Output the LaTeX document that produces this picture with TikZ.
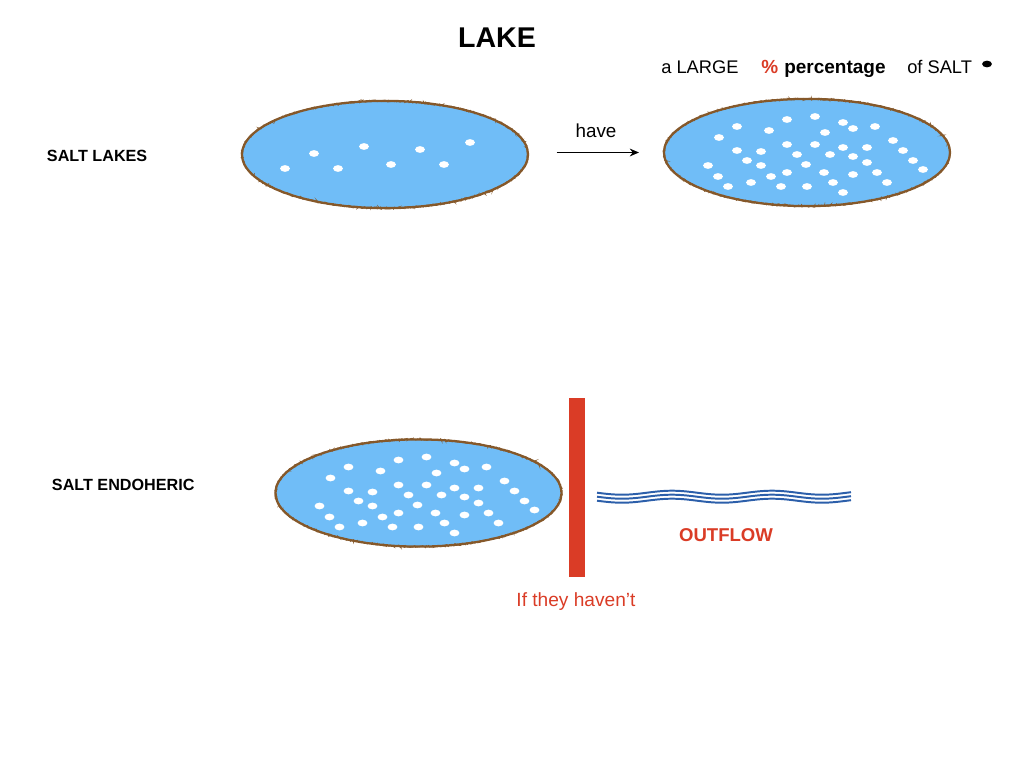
\documentclass[tikz,border=0pt]{standalone}
\usepackage{fontspec}
\setmainfont{Liberation Sans}
\usetikzlibrary{shapes.geometric,decorations.pathmorphing,arrows.meta}

\begin{document}
\begin{tikzpicture}[x=0.025cm,y=-0.025cm]
  \newcommand{\lakew}[0]{7.15cm}
  \newcommand{\lakeh}[0]{2.68cm}
  \newcommand{\fewsalt}[0]{-100/14, -71/-1, -47/14, -21/-8, 6/10, 35/-5, 59/10, 85/-12}
  \newcommand{\muchsalt}[0]{-88/-15, -70/-26, -38/-22, -20/-33, 8/-36, 36/-30, 46/-24,
    68/-26, 18/-20, 86/-12, -70/-2, -46/-1, -20/-8, 8/-8, 36/-5, 60/-5, 96/-2,
    -60/8, -10/2, 23/2, 46/4, 60/10, 106/8, -99/13, -46/13, -1/12, 116/17,
    -89/24, -36/24, -20/20, 17/20, 46/22, 70/20, -79/34, -56/30, -26/34, 0/34,
    26/30, 80/30, 36/40}

  \definecolor{lakeblue}{RGB}{112,189,247}
  \definecolor{lakerim}{RGB}{133,88,42}
  \definecolor{saltred}{RGB}{218,60,38}
  \definecolor{flowblue}{RGB}{44,95,170}

  \tikzstyle{lake}=[
    ellipse,
    draw=lakerim,
    line width=1.6pt,
    fill=lakeblue,
    minimum width=\lakew,
    minimum height=\lakeh,
    inner sep=0pt,
    postaction={draw=lakerim, line width=0.7pt, decorate,
      decoration={random steps, segment length=0.7pt, amplitude=0.7pt}}
  ]
  \tikzstyle{salt}=[fill=white]
  \tikzstyle{heading}=[font=\bfseries\fontsize{11.5}{14}\selectfont, anchor=west]
  \tikzstyle{plain}=[font=\fontsize{13}{16}\selectfont, anchor=base west, inner sep=0pt]
  \tikzstyle{arrow} = [line width=1.1pt,->,>={Stealth[length=6.5pt,width=5.5pt]}, draw=black]
  \tikzstyle{wall}=[fill=saltred, minimum width=11.3pt, minimum height=127pt, inner sep=0pt]
  \tikzstyle{wave}=[draw=flowblue, line width=1.4pt]

  \useasboundingbox (0,0) rectangle (1024,768);

  % titles
  \node[font=\bfseries\fontsize{20.3}{24}\selectfont] (title) at (497,38) {LAKE};
  \node[heading] (saltlakes) at (42,156) {SALT LAKES};
  \node[heading] (endoheric) at (47,485) {SALT ENDOHERIC};

  % lakes
  \node[lake] (lake1) at (385,154.5) {};
  \node[lake] (lake2) at (807,152.5) {};
  \node[lake] (lake3) at (418.5,493) {};
  \foreach \dx/\dy in \fewsalt
    \fill[salt] ([shift={(\dx,\dy)}]lake1.center) ellipse [x radius=3.5pt, y radius=2.4pt];
  \foreach \dx/\dy in \muchsalt {
    \fill[salt] ([shift={(\dx,\dy)}]lake2.center) ellipse [x radius=3.5pt, y radius=2.4pt];
    \fill[salt] ([shift={(\dx,\dy)}]lake3.center) ellipse [x radius=3.5pt, y radius=2.4pt];
  }

  % top row
  \draw[arrow, shorten <=19.5pt, shorten >=17pt] (lake1.east |- lake2.west) -- (lake2.west);
  \node[font=\fontsize{13.4}{16}\selectfont] (have) at (596,131) {have};
  \node[plain] (large) at (661,74) {a LARGE};
  \node[plain, font=\bfseries\fontsize{13.5}{16}\selectfont, text=saltred] (pct) at (761,74) {\%};
  \node[plain, font=\bfseries\fontsize{13.5}{16}\selectfont] (perc) at (784,74) {percentage};
  \node[plain] (ofsalt) at (907,74) {of SALT};
  \fill (987,64) ellipse [x radius=3.5pt, y radius=2.4pt];

  % bottom row
  \node[wall] (dam) at (577,487.5) {};
  \node[font=\fontsize{13.6}{16}\selectfont, text=saltred] (haventt) at (576,602) {If they haven’t};
  \node[font=\bfseries\fontsize{13.2}{16}\selectfont, text=saltred] (outflow) at (726,535) {OUTFLOW};
  \foreach \off in {-4,0,4}
    \draw[wave] plot[domain=597:851, samples=90] (\x, {496.7+\off+2*sin(3.6*(\x-597))});
\end{tikzpicture}
\end{document}
